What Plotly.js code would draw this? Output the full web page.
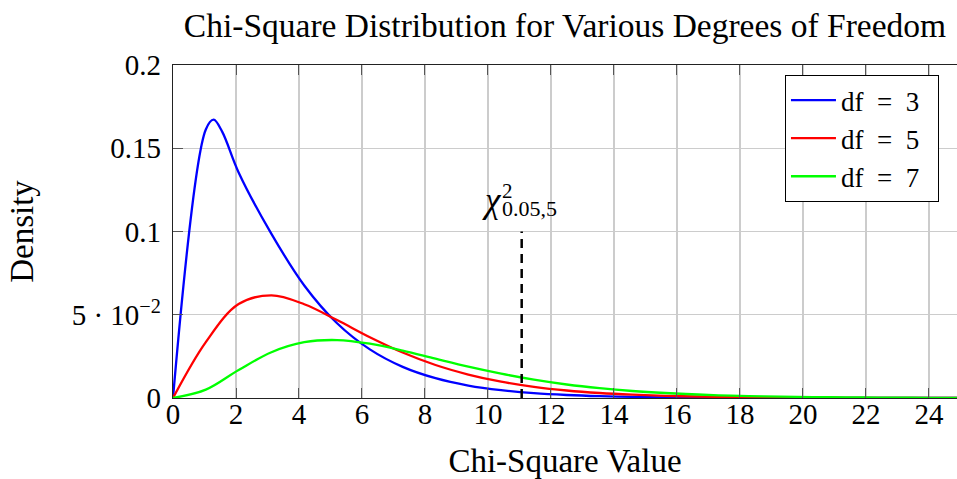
<!DOCTYPE html>
<html>
<head>
<meta charset="utf-8">
<script src="https://cdn.plot.ly/plotly-3.0.1.min.js"></script>
<style>
  html, body { margin: 0; padding: 0; background: #ffffff; }
  #chart { width: 957px; height: 479px; }
</style>
</head>
<body>
<div id="chart"></div>
<script>
// Sample points of the chi-square axis (25 samples over 0..25)
const chiValues = [0, 1.0417, 2.0833, 3.125, 4.1667, 5.2083, 6.25, 7.2917, 8.3333, 9.375,
  10.4167, 11.4583, 12.5, 13.5417, 14.5833, 15.625, 16.6667, 17.7083, 18.75, 19.7917,
  20.8333, 21.875, 22.9167, 23.9583, 25];

// df = 3 has two extra points read around its peak
const chiValuesDf3 = [0, 1.0417, 1.29, 1.56, 2.0833, 3.125, 4.1667, 5.2083, 6.25, 7.2917,
  8.3333, 9.375, 10.4167, 11.4583, 12.5, 13.5417, 14.5833, 15.625, 16.6667, 17.7083,
  18.75, 19.7917, 20.8333, 21.875, 22.9167, 23.9583, 25];

// Density values for each degree of freedom
const densityDf3 = [0, 0.1613, 0.1672, 0.1600, 0.1355, 0.0986, 0.0676, 0.0449, 0.0292, 0.0187,
  0.0119, 0.0075, 0.0047, 0.0029, 0.0018, 0.0011, 0.0007, 0.0004, 0.00026, 0.00016,
  0.0001, 0.00006, 0.00004, 0.00002, 0.00001, 0.00001, 0];
const densityDf5 = [0, 0.0336, 0.0564, 0.0616, 0.0563, 0.0468, 0.0365, 0.0273, 0.0198, 0.0141,
  0.0098, 0.0067, 0.0045, 0.0030, 0.0020, 0.0013, 0.0009, 0.0006, 0.0004, 0.00024,
  0.00015, 0.0001, 0.00006, 0.00004, 0.00002];
const densityDf7 = [0, 0.0050, 0.0168, 0.0275, 0.0335, 0.0348, 0.0326, 0.0285, 0.0236, 0.0188,
  0.0146, 0.0110, 0.0081, 0.0059, 0.0042, 0.0030, 0.0021, 0.0014, 0.0010, 0.0007,
  0.00045, 0.0003, 0.0002, 0.00013, 0.00009];

const seriesNames = ['df\u2002=\u20023\u2002', 'df\u2002=\u20025\u2002', 'df\u2002=\u20027\u2002'];
const seriesColors = ['#0000ff', '#ff0000', '#00ff00'];

// Critical value chi^2_{0.05,5} and the height of its marker line
const criticalValue = 11.07;
const criticalTop = 0.1;

// Axis ticks
const xTickVals = [0, 2, 4, 6, 8, 10, 12, 14, 16, 18, 20, 22, 24];
const yTickVals = [0, 0.05, 0.1, 0.15, 0.2];
const yTickText = ['0', '5 · 10<sup>−2</sup>', '0.1', '0.15', '0.2'];

const serif = 'Liberation Serif, Times New Roman, serif';

const seriesX = [chiValuesDf3, chiValues, chiValues];
const seriesY = [densityDf3, densityDf5, densityDf7];

const traces = seriesY.map((ys, i) => ({
  x: seriesX[i],
  y: ys,
  type: 'scatter',
  mode: 'lines',
  name: seriesNames[i],
  line: { color: seriesColors[i], width: 2.3, shape: 'spline', smoothing: 1 },
  hoverinfo: 'skip'
}));

const layout = {
  width: 957,
  height: 479,
  margin: { l: 173, r: 0, t: 65, b: 81 },
  paper_bgcolor: '#ffffff',
  plot_bgcolor: '#ffffff',
  showlegend: true,
  font: { family: serif, size: 29, color: '#000000' },
  title: {
    text: 'Chi-Square Distribution for Various Degrees of Freedom',
    font: { family: serif, size: 33.5, color: '#000000' },
    x: 0.5, xref: 'paper', xanchor: 'center',
    y: 1 - 25 / 479, yref: 'container', yanchor: 'middle'
  },
  xaxis: {
    range: [0, 24.89],
    tickvals: xTickVals,
    ticks: 'inside', ticklen: 10, tickwidth: 1, tickcolor: '#555555',
    ticklabelstandoff: -10,
    showgrid: true, gridcolor: '#cccccc', gridwidth: 1.2,
    showline: true, linecolor: '#222222', linewidth: 1.3, mirror: 'ticks',
    zeroline: false,
    tickfont: { family: serif, size: 29, color: '#000000' },
    title: { text: 'Chi-Square Value', font: { family: serif, size: 33, color: '#000000' }, standoff: 20 }
  },
  yaxis: {
    range: [0, 0.2],
    tickvals: yTickVals,
    ticktext: yTickText,
    ticks: 'inside', ticklen: 10, tickwidth: 1, tickcolor: '#555555',
    ticklabelstandoff: 5,
    showgrid: true, gridcolor: '#cccccc', gridwidth: 1.2,
    showline: true, linecolor: '#222222', linewidth: 1.3, mirror: false,
    zeroline: false,
    tickfont: { family: serif, size: 29, color: '#000000' },
    title: { text: 'Density', font: { family: serif, size: 33, color: '#000000' }, standoff: 28 }
  },
  legend: {
    x: 0.977, xanchor: 'right', xref: 'paper',
    y: 0.97, yanchor: 'top', yref: 'paper',
    bgcolor: '#ffffff', bordercolor: '#000000', borderwidth: 1,
    font: { family: serif, size: 27, color: '#000000' },
    itemwidth: 45, tracegroupgap: 0
  },
  shapes: [{
    type: 'line', layer: 'above',
    xref: 'x', yref: 'y',
    x0: criticalValue, x1: criticalValue, y0: 0, y1: criticalTop,
    line: { color: '#000000', width: 2.5, dash: '9px,6px' }
  }],
  annotations: [
    {
      x: criticalValue, y: criticalTop, xref: 'x', yref: 'y',
      text: '<i>χ</i>', showarrow: false,
      xanchor: 'right', yanchor: 'middle', xshift: -18, yshift: 31,
      font: { family: serif, size: 35, color: '#000000' }
    },
    {
      x: criticalValue, y: criticalTop, xref: 'x', yref: 'y',
      text: '2', showarrow: false,
      xanchor: 'left', yanchor: 'middle', xshift: -22, yshift: 41,
      font: { family: serif, size: 21, color: '#000000' }
    },
    {
      x: criticalValue, y: criticalTop, xref: 'x', yref: 'y',
      text: '0.05,5', showarrow: false,
      xanchor: 'left', yanchor: 'middle', xshift: -22, yshift: 23,
      font: { family: serif, size: 22, color: '#000000' }
    }
  ]
};

Plotly.newPlot('chart', traces, layout, { staticPlot: true, displayModeBar: false });
</script>
</body>
</html>
